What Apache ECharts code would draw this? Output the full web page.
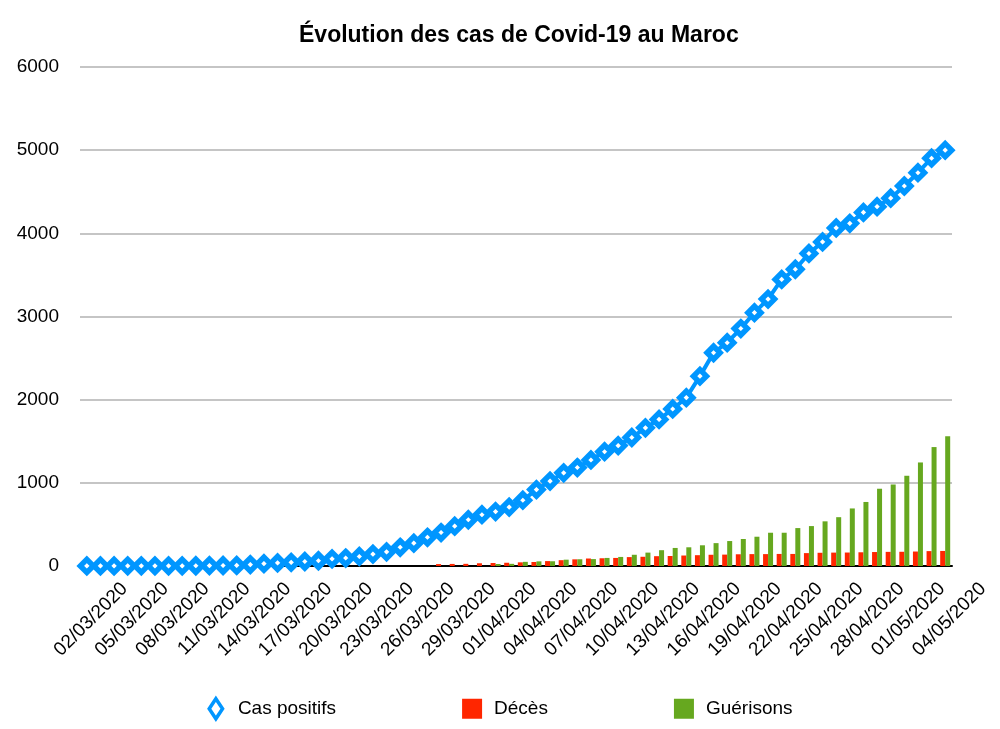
<!DOCTYPE html>
<html>
<head>
<meta charset="utf-8">
<script src="https://cdn.jsdelivr.net/npm/echarts@6/dist/echarts.min.js"></script>
<style>
html,body{margin:0;padding:0;background:#fff;}
#chart{width:1000px;height:729px;}
</style>
</head>
<body>
<div id="chart"></div>
<script>
var titleText = 'Évolution des cas de Covid-19 au Maroc';
var seriesNames = ['Cas positifs', 'Décès', 'Guérisons'];

var dates = [
  '02/03/2020','03/03/2020','04/03/2020','05/03/2020','06/03/2020','07/03/2020','08/03/2020','09/03/2020',
  '10/03/2020','11/03/2020','12/03/2020','13/03/2020','14/03/2020','15/03/2020','16/03/2020','17/03/2020',
  '18/03/2020','19/03/2020','20/03/2020','21/03/2020','22/03/2020','23/03/2020','24/03/2020','25/03/2020',
  '26/03/2020','27/03/2020','28/03/2020','29/03/2020','30/03/2020','31/03/2020','01/04/2020','02/04/2020',
  '03/04/2020','04/04/2020','05/04/2020','06/04/2020','07/04/2020','08/04/2020','09/04/2020','10/04/2020',
  '11/04/2020','12/04/2020','13/04/2020','14/04/2020','15/04/2020','16/04/2020','17/04/2020','18/04/2020',
  '19/04/2020','20/04/2020','21/04/2020','22/04/2020','23/04/2020','24/04/2020','25/04/2020','26/04/2020',
  '27/04/2020','28/04/2020','29/04/2020','30/04/2020','01/05/2020','02/05/2020','03/05/2020','04/05/2020'
];

var casPositifs = [
  1, 1, 1, 2, 2, 2, 2, 2,
  3, 5, 6, 7, 17, 28, 37, 44,
  54, 63, 86, 96, 115, 143, 170, 225,
  275, 345, 402, 479, 556, 617, 654, 708,
  791, 919, 1021, 1120, 1184, 1275, 1374, 1448,
  1545, 1661, 1763, 1888, 2024, 2283, 2564, 2685,
  2855, 3046, 3209, 3446, 3568, 3758, 3897, 4065,
  4120, 4252, 4321, 4423, 4569, 4729, 4903, 5000
];

var deces = [
  0, 0, 0, 0, 0, 0, 0, 0,
  0, 0, 0, 0, 0, 0, 0, 0,
  0, 0, 0, 0, 0, 0, 0, 0,
  0, 0, 23, 25, 26, 33, 36, 39,
  44, 48, 59, 70, 80, 90, 93, 97,
  107, 111, 118, 120, 126, 130, 135, 137,
  141, 143, 143, 145, 145, 155, 159, 161,
  162, 165, 168, 170, 171, 174, 179, 181
];

var guerisons = [
  0, 0, 0, 0, 0, 0, 0, 0,
  0, 0, 0, 0, 0, 0, 0, 0,
  0, 0, 0, 0, 0, 0, 0, 0,
  0, 0, 0, 0, 0, 0, 24, 26,
  50, 56, 57, 76, 81, 83, 97, 109,
  135, 161, 190, 217, 225, 249, 275, 300,
  325, 352, 400, 400, 456, 480, 537, 587,
  692, 770, 929, 980, 1085, 1245, 1430, 1560
];

var yTicks = { min: 0, max: 6000, interval: 1000 };

var chart = echarts.init(document.getElementById('chart'), null, { renderer: 'canvas' });

var FONT = '"Liberation Sans", Arial, Helvetica, sans-serif';
var BLUE = '#0096ff';

var option = {
  backgroundColor: '#ffffff',
  animation: false,
  textStyle: { fontFamily: FONT },
  title: {
    text: titleText,
    left: 294,
    top: 19,
    textStyle: { fontFamily: FONT, fontSize: 23, fontWeight: 'bold', color: '#000' }
  },
  legend: {
    top: 692,
    left: 'center',
    itemGap: 126,
    itemWidth: 20,
    itemHeight: 20,
    textStyle: { fontFamily: FONT, fontSize: 19, color: '#000', padding: [0, 0, 0, 7] },
    data: [
      { name: seriesNames[0], icon: 'path://M6,0 L12,9 L6,18 L0,9 Z',
        itemStyle: { color: '#ffffff', borderColor: BLUE, borderWidth: 3.5 } },
      { name: seriesNames[1], icon: 'rect' },
      { name: seriesNames[2], icon: 'rect' }
    ]
  },
  grid: { left: 80, right: 48, top: 67, bottom: 163 },
  xAxis: {
    type: 'category',
    data: dates,
    boundaryGap: true,
    axisLine: { show: true, lineStyle: { color: '#000', width: 2 } },
    axisTick: { show: false },
    splitLine: { show: false },
    axisLabel: {
      interval: 2,
      rotate: 45,
      fontSize: 19,
      fontFamily: FONT,
      color: '#000',
      margin: -18,
      align: 'right',
      verticalAlign: 'top',
      padding: [44, 0, 0, 0]
    }
  },
  yAxis: {
    type: 'value',
    min: yTicks.min,
    max: yTicks.max,
    interval: yTicks.interval,
    axisLine: { show: false },
    axisTick: { show: false },
    splitLine: { show: true, lineStyle: { color: '#b2b2b2', width: 1.5 } },
    axisLabel: {
      fontSize: 19, fontFamily: FONT, color: '#000', margin: 21,
      formatter: function (v) { return String(v); }
    }
  },
  series: [
    {
      name: seriesNames[1],
      type: 'bar',
      data: deces,
      barWidth: 5,
      barGap: '0%',
      itemStyle: { color: '#ff2600' },
      z: 2
    },
    {
      name: seriesNames[2],
      type: 'bar',
      data: guerisons,
      barWidth: 5,
      barGap: '0%',
      itemStyle: { color: '#66a81f' },
      z: 2
    },
    {
      name: seriesNames[0],
      type: 'line',
      data: casPositifs,
      symbol: 'diamond',
      symbolSize: 13,
      showAllSymbol: true,
      lineStyle: { color: BLUE, width: 4 },
      itemStyle: { color: '#ffffff', borderColor: BLUE, borderWidth: 5.5 },
      z: 5
    }
  ]
};

chart.setOption(option);
</script>
</body>
</html>
